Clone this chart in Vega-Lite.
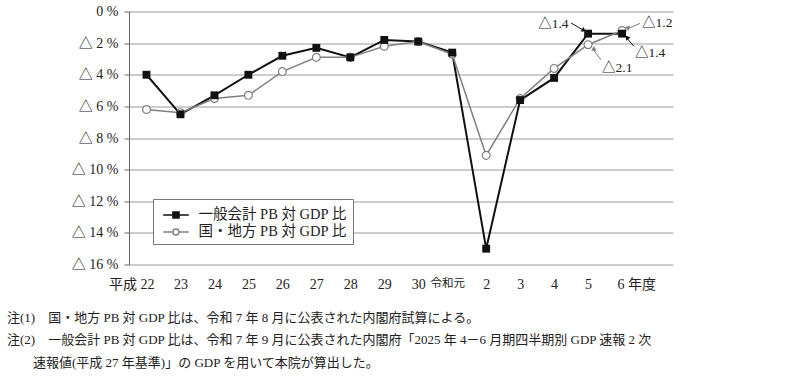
{
  "$schema": "https://vega.github.io/schema/vega-lite/v6.json",
  "width": 544,
  "height": 253,
  "autosize": {"type": "none"},
  "padding": {"left": 129, "top": 11.5, "right": 127, "bottom": 113.5},
  "background": "white",
  "config": {
    "font": "Liberation Serif, Noto Sans CJK JP",
    "view": {"stroke": null},
    "legend": {
      "title": null,
      "orient": "none",
      "legendX": 24,
      "legendY": 187.5,
      "fillColor": "white",
      "strokeColor": "#777777",
      "padding": 5.5,
      "symbolSize": 361,
      "symbolStrokeWidth": 1.5,
      "labelFontSize": 14.5,
      "labelColor": "#222222",
      "labelOffset": 12,
      "symbolOffset": 7,
      "rowPadding": 0,
      "labelFont": "Liberation Serif, Noto Sans CJK JP"
    }
  },
  "title": {
    "text": [
      "注(1)　国・地方 PB 対 GDP 比は、令和 7 年 8 月に公表された内閣府試算による。",
      "注(2)　一般会計 PB 対 GDP 比は、令和 7 年 9 月に公表された内閣府「2025 年 4－6 月期四半期別 GDP 速報 2 次",
      "\u200b　　速報値(平成 27 年基準)」の GDP を用いて本院が算出した。"
    ],
    "orient": "bottom",
    "anchor": "start",
    "frame": "group",
    "dx": -122,
    "offset": 20,
    "fontSize": 13,
    "fontWeight": "normal",
    "lineHeight": 22.5,
    "color": "#222222",
    "font": "Liberation Serif, Noto Sans CJK JP"
  },
  "datasets": {
    "pb": [
      {"i": 0, "year": "平成22", "series": "一般会計 PB 対 GDP 比", "value": -4.0},
      {"i": 1, "year": "23", "series": "一般会計 PB 対 GDP 比", "value": -6.5},
      {"i": 2, "year": "24", "series": "一般会計 PB 対 GDP 比", "value": -5.3},
      {"i": 3, "year": "25", "series": "一般会計 PB 対 GDP 比", "value": -4.0},
      {"i": 4, "year": "26", "series": "一般会計 PB 対 GDP 比", "value": -2.8},
      {"i": 5, "year": "27", "series": "一般会計 PB 対 GDP 比", "value": -2.3},
      {"i": 6, "year": "28", "series": "一般会計 PB 対 GDP 比", "value": -2.9},
      {"i": 7, "year": "29", "series": "一般会計 PB 対 GDP 比", "value": -1.8},
      {"i": 8, "year": "30", "series": "一般会計 PB 対 GDP 比", "value": -1.9},
      {"i": 9, "year": "令和元", "series": "一般会計 PB 対 GDP 比", "value": -2.6},
      {"i": 10, "year": "2", "series": "一般会計 PB 対 GDP 比", "value": -15.0},
      {"i": 11, "year": "3", "series": "一般会計 PB 対 GDP 比", "value": -5.6},
      {"i": 12, "year": "4", "series": "一般会計 PB 対 GDP 比", "value": -4.2},
      {"i": 13, "year": "5", "series": "一般会計 PB 対 GDP 比", "value": -1.4},
      {"i": 14, "year": "6", "series": "一般会計 PB 対 GDP 比", "value": -1.4},
      {"i": 0, "year": "平成22", "series": "国・地方 PB 対 GDP 比", "value": -6.2},
      {"i": 1, "year": "23", "series": "国・地方 PB 対 GDP 比", "value": -6.4},
      {"i": 2, "year": "24", "series": "国・地方 PB 対 GDP 比", "value": -5.5},
      {"i": 3, "year": "25", "series": "国・地方 PB 対 GDP 比", "value": -5.3},
      {"i": 4, "year": "26", "series": "国・地方 PB 対 GDP 比", "value": -3.8},
      {"i": 5, "year": "27", "series": "国・地方 PB 対 GDP 比", "value": -2.9},
      {"i": 6, "year": "28", "series": "国・地方 PB 対 GDP 比", "value": -2.9},
      {"i": 7, "year": "29", "series": "国・地方 PB 対 GDP 比", "value": -2.2},
      {"i": 8, "year": "30", "series": "国・地方 PB 対 GDP 比", "value": -1.9},
      {"i": 9, "year": "令和元", "series": "国・地方 PB 対 GDP 比", "value": -2.7},
      {"i": 10, "year": "2", "series": "国・地方 PB 対 GDP 比", "value": -9.1},
      {"i": 11, "year": "3", "series": "国・地方 PB 対 GDP 比", "value": -5.5},
      {"i": 12, "year": "4", "series": "国・地方 PB 対 GDP 比", "value": -3.6},
      {"i": 13, "year": "5", "series": "国・地方 PB 対 GDP 比", "value": -2.1},
      {"i": 14, "year": "6", "series": "国・地方 PB 対 GDP 比", "value": -1.2}
    ],
    "labels": [
      {"label": "△1.4", "x": 11.53, "y": -0.79},
      {"label": "△1.2", "x": 14.59, "y": -0.75},
      {"label": "△1.4", "x": 14.38, "y": -2.6},
      {"label": "△2.1", "x": 13.41, "y": -3.55}
    ],
    "arrows": [
      {"id": 1, "series": "一般会計 PB 対 GDP 比", "x": 12.5, "y": -0.73, "x2": 12.88, "y2": -1.2},
      {"id": 2, "series": "国・地方 PB 対 GDP 比", "x": 14.53, "y": -0.75, "x2": 14.18, "y2": -1.08},
      {"id": 3, "series": "一般会計 PB 対 GDP 比", "x": 14.35, "y": -2.2, "x2": 14.15, "y2": -1.71},
      {"id": 4, "series": "国・地方 PB 対 GDP 比", "x": 13.38, "y": -3.05, "x2": 13.15, "y2": -2.4}
    ]
  },
  "layer": [
    {
      "data": {"name": "pb"},
      "mark": {"type": "line"},
      "encoding": {
        "x": {
          "field": "i",
          "type": "quantitative",
          "scale": {"domain": [-0.515, 15.5], "nice": false, "zero": false},
          "axis": {
            "title": null,
            "values": [0, 1, 2, 3, 4, 5, 6, 7, 8, 9, 10, 11, 12, 13, 14],
            "tickCount": 40,
            "labelExpr": "['平成 22','23','24','25','26','27','28','29','30','令和元','2','3','4','5','6 年度'][datum.value]",
            "domain": false,
            "ticks": false,
            "grid": false,
            "labelFontSize": {
              "condition": {"test": "datum.value == 9", "value": 11.5},
              "value": 14
            },
            "labelColor": "#222222",
            "labelPadding": 13,
            "labelFlush": false,
            "labelOverlap": false,
            "labelAlign": {
              "condition": [
                {"test": "datum.value == 0", "value": "right"},
                {"test": "datum.value == 14", "value": "left"}
              ],
              "value": "center"
            },
            "labelOffset": {
              "condition": [
                {"test": "datum.value == 0", "value": 7.5},
                {"test": "datum.value == 14", "value": -5},
                {"test": "datum.value == 9", "value": -5}
              ],
              "value": 0
            }
          }
        },
        "y": {
          "field": "value",
          "type": "quantitative",
          "scale": {"domain": [-16, 0], "nice": false},
          "axis": {
            "title": null,
            "values": [-16, -14, -12, -10, -8, -6, -4, -2, 0],
            "tickCount": 40,
            "labelOverlap": false,
            "labelExpr": "datum.value == 0 ? '0 %' : '△ ' + abs(datum.value) + ' %'",
            "grid": true,
            "gridColor": "#9a9a9a",
            "gridWidth": 1,
            "domainColor": "#666666",
            "tickColor": "#666666",
            "tickSize": 5,
            "labelPadding": 6,
            "labelFontSize": 14,
            "labelColor": "#222222"
          }
        },
        "stroke": {
          "field": "series",
          "type": "nominal",
          "scale": {"domain": ["一般会計 PB 対 GDP 比", "国・地方 PB 対 GDP 比"], "range": ["#111111", "#808080"]},
          "legend": {"title": null}
        },
        "strokeWidth": {
          "condition": {"test": "datum.series == '一般会計 PB 対 GDP 比'", "value": 2},
          "value": 1.5
        },
        "order": {"field": "i"}
      }
    },
    {
      "data": {"name": "pb"},
      "transform": [{"filter": "datum.series == '国・地方 PB 対 GDP 比'"}],
      "mark": {"type": "point", "shape": "circle", "filled": false, "fill": "#ffffff", "stroke": "#808080", "size": 62, "strokeWidth": 1.2, "opacity": 1},
      "encoding": {
        "x": {"field": "i", "type": "quantitative"},
        "y": {"field": "value", "type": "quantitative"}
      }
    },
    {
      "data": {"name": "pb"},
      "transform": [{"filter": "datum.series == '一般会計 PB 対 GDP 比'"}],
      "mark": {"type": "point", "shape": "square", "filled": true, "color": "#111111", "size": 62, "opacity": 1},
      "encoding": {
        "x": {"field": "i", "type": "quantitative"},
        "y": {"field": "value", "type": "quantitative"}
      }
    },
    {
      "data": {"name": "pb"},
      "transform": [{"filter": "datum.i == 0"}],
      "mark": {"type": "point", "filled": true, "opacity": 1, "size": 0.01},
      "encoding": {
        "x": {"field": "i", "type": "quantitative"},
        "y": {"field": "value", "type": "quantitative"},
        "shape": {
          "field": "series",
          "type": "nominal",
          "scale": {
            "domain": ["一般会計 PB 対 GDP 比", "国・地方 PB 対 GDP 比"],
            "range": [
              "M-1.35,0L-0.3,0M0.3,0L1.35,0M-0.32,-0.32L0.32,-0.32L0.32,0.32L-0.32,0.32Z",
              "M-1.35,0L-0.32,0M0.32,0L1.35,0M-0.32,0C-0.32,-0.177,-0.177,-0.32,0,-0.32C0.177,-0.32,0.32,-0.177,0.32,0C0.32,0.177,0.177,0.32,0,0.32C-0.177,0.32,-0.32,0.177,-0.32,0Z"
            ]
          },
          "legend": {"title": null}
        },
        "fill": {
          "field": "series",
          "type": "nominal",
          "scale": {"domain": ["一般会計 PB 対 GDP 比", "国・地方 PB 対 GDP 比"], "range": ["#111111", "#ffffff"]},
          "legend": {"title": null}
        },
        "stroke": {"field": "series", "type": "nominal", "legend": {"title": null}}
      }
    },
    {
      "data": {"name": "arrows"},
      "mark": {"type": "rule", "strokeWidth": 1},
      "encoding": {
        "x": {"field": "x", "type": "quantitative"},
        "y": {"field": "y", "type": "quantitative"},
        "x2": {"field": "x2"},
        "y2": {"field": "y2"},
        "stroke": {"field": "series", "type": "nominal", "legend": {"title": null}}
      }
    },
    {
      "data": {"name": "arrows"},
      "mark": {"type": "point", "shape": "triangle-right", "filled": true, "size": 28, "opacity": 1},
      "encoding": {
        "x": {"field": "x2", "type": "quantitative"},
        "y": {"field": "y2", "type": "quantitative"},
        "color": {
          "field": "series",
          "type": "nominal",
          "scale": {"domain": ["一般会計 PB 対 GDP 比", "国・地方 PB 対 GDP 比"], "range": ["#111111", "#808080"]},
          "legend": null
        },
        "angle": {
          "field": "id",
          "type": "ordinal",
          "scale": {"domain": [1, 2, 3, 4], "range": [30, 155, 227, 229]},
          "legend": null
        }
      }
    },
    {
      "data": {"name": "labels"},
      "mark": {"type": "text", "align": "left", "baseline": "middle", "fontSize": 13.5, "color": "#222222", "font": "Liberation Serif, Noto Sans CJK JP"},
      "encoding": {
        "x": {"field": "x", "type": "quantitative"},
        "y": {"field": "y", "type": "quantitative"},
        "text": {"field": "label"}
      }
    }
  ]
}
